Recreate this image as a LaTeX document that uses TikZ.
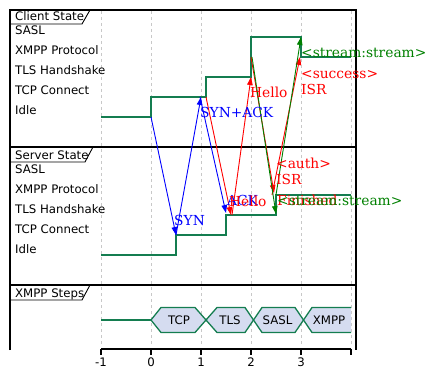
\documentclass[tikz,border=0pt]{standalone}
\usepackage{fontspec}
\setmainfont{DejaVu Serif}
\setsansfont{DejaVu Sans}
\usetikzlibrary{arrows.meta}
\definecolor{lvl}{RGB}{20,125,80}
\definecolor{hexfill}{RGB}{213,220,240}
\definecolor{msgblue}{RGB}{0,0,255}
\definecolor{msgred}{RGB}{255,0,0}
\definecolor{msggreen}{RGB}{0,128,0}
\definecolor{gridgray}{RGB}{200,200,200}
\begin{document}
\begin{tikzpicture}[x=1pt,y=-1pt,
  panelframe/.style={line width=1.6pt, black},
  tabline/.style={line width=0.9pt, black},
  gridline/.style={gridgray, dash pattern=on 3pt off 3pt, line width=0.8pt},
  lvlline/.style={lvl, line width=1.5pt},
  sflbl/.style={font=\sffamily\fontsize{11.75}{12}\selectfont, inner sep=0pt, text height=8.5pt, text depth=0pt},
  lvltext/.style={sflbl, anchor=west},
  msg/.style={line width=0.9pt, -{Triangle[length=8pt,width=5.5pt]}},
  msglbl/.style={font=\fontsize{13.8}{14}\selectfont, anchor=west, inner sep=0pt, text height=10pt, text depth=0pt},
  hexshape/.style={draw=lvl, fill=hexfill, line width=1.3pt, line join=miter},
]
\useasboundingbox (0,0) rectangle (430,379);

% grid
\foreach \gx in {101,151,201,251,301,351}
  \draw[gridline] (\gx,11) -- (\gx,346);

% frame
\draw[panelframe] (10,350) -- (10,10) -- (356,10) -- (356,350);
\draw[panelframe] (10,147) -- (356,147);
\draw[panelframe] (10,285) -- (356,285);

% tabs
\draw[tabline] (10,24) -- (82,24) -- (90,10);
\node[lvltext] (tabC) at (15,16) {Client State};
\draw[tabline] (10,162) -- (85,162) -- (93,147);
\node[lvltext] (tabS) at (15,155) {Server State};
\draw[tabline] (10,300) -- (82,300) -- (90,285);
\node[lvltext] (tabX) at (15,293) {XMPP Steps};

% client level labels
\node[lvltext] (cSASL) at (15,30.5) {SASL};
\node[lvltext] (cXMPP) at (15,50.5) {XMPP Protocol};
\node[lvltext] (cTLS) at (15,70.5) {TLS Handshake};
\node[lvltext] (cTCP) at (15,90.5) {TCP Connect};
\node[lvltext] (cIdle) at (15,110.5) {Idle};
% server level labels
\node[lvltext] (sSASL) at (15,169.5) {SASL};
\node[lvltext] (sXMPP) at (15,189.5) {XMPP Protocol};
\node[lvltext] (sTLS) at (15,209.5) {TLS Handshake};
\node[lvltext] (sTCP) at (15,229.5) {TCP Connect};
\node[lvltext] (sIdle) at (15,249.5) {Idle};

% client state line
\draw[lvlline] (101,117) -- (151,117) -- (151,97) -- (206,97) -- (206,77) -- (251,77) -- (251,37) -- (301,37) -- (301,57) -- (351,57);
% server state line
\draw[lvlline] (101,255) -- (176,255) -- (176,235) -- (226,235) -- (226,215) -- (276,215) -- (276,195) -- (351,195);

% message endpoints
\coordinate (synA) at (151,117);   \coordinate (synB) at (176,235);
\coordinate (saA) at (176,235);    \coordinate (saB) at (201,97);
\coordinate (ackA) at (200,97);    \coordinate (ackB) at (226,213);
\coordinate (h1A) at (206,97);     \coordinate (h1B) at (231,215);
\coordinate (h2A) at (232,215);    \coordinate (h2B) at (251,77);
\coordinate (r1A) at (251,57);     \coordinate (r1B) at (274,193);
\coordinate (r2A) at (272,195);    \coordinate (r2B) at (300,57);
\coordinate (g1A) at (252,57);     \coordinate (g1B) at (276,214);
\coordinate (g2A) at (276,195);    \coordinate (g2B) at (301,37);

\draw[msg, msgblue] (synA) -- (synB);
\draw[msg, msgblue] (saA) -- (saB);
\draw[msg, msgblue] (ackA) -- (ackB);
\draw[msg, msgred] (h1A) -- (h1B);
\draw[msg, msgred] (h2A) -- (h2B);
\draw[msg, msgred] (r1A) -- (r1B);
\draw[msg, msgred] (r2A) -- (r2B);
\draw[msg, msggreen] (g1A) -- (g1B);
\draw[msg, msggreen] (g2A) -- (g2B);

% message labels
\node[msglbl, msgblue] (lSYN) at (174,220) {SYN};
\node[msglbl, msgblue] (lSA) at (200,113) {SYN+ACK};
\node[msglbl, msgblue] (lACK) at (227,200) {ACK};
\node[msglbl, msgred] (lH1) at (229,201) {Hello};
\node[msglbl, msgred] (lH2) at (250,93) {Hello};
\node[msglbl, msggreen] (lSS1) at (301,52.5) {<stream:stream>};
\node[msglbl, msgred] (lSucc) at (301,73.5) {<success>};
\node[msglbl, msgred] (lISR1) at (301,90) {ISR};
\node[msglbl, msgred] (lAuth) at (276,164) {<auth>};
\node[msglbl, msgred] (lISR2) at (276,180) {ISR};
\node[msglbl, msgred] (lFin) at (277,200) {Finished};
\node[msglbl, msggreen] (lSS2) at (277,200.5) {<stream:stream>};

% XMPP steps
\draw[lvlline] (101,320) -- (151,320);
\draw[hexshape] (151,320) -- (161,307.5) -- (195,307.5) -- (206,320) -- (195,332.5) -- (161,332.5) -- cycle;
\draw[hexshape] (206,320) -- (217,307.5) -- (245,307.5) -- (253.5,320) -- (245,332.5) -- (217,332.5) -- cycle;
\draw[hexshape] (253.5,320) -- (262,307.5) -- (295,307.5) -- (303.5,320) -- (295,332.5) -- (262,332.5) -- cycle;
\fill[hexfill] (303.5,320) -- (312,307.5) -- (351,307.5) -- (351,332.5) -- (312,332.5) -- cycle;
\draw[lvl, line width=1.3pt] (351,307.5) -- (312,307.5) -- (303.5,320) -- (312,332.5) -- (351,332.5);
\node[sflbl] (xTCP) at (179,320) {TCP};
\node[sflbl] (xTLS) at (230,320) {TLS};
\node[sflbl] (xSASL) at (277.5,320) {SASL};
\node[sflbl] (xXMPP) at (329,320) {XMPP};

% axis
\draw[line width=1.6pt] (101,349) -- (351,349);
\foreach \tx in {101,151,201,251,301,351}
  \draw[line width=1.4pt] (\tx,348.5) -- (\tx,355);
\node[sflbl] (t0) at (101,362) {-1};
\node[sflbl] (t1) at (151,362) {0};
\node[sflbl] (t2) at (201,362) {1};
\node[sflbl] (t3) at (251,362) {2};
\node[sflbl] (t4) at (301,362) {3};
\end{tikzpicture}
\end{document}
